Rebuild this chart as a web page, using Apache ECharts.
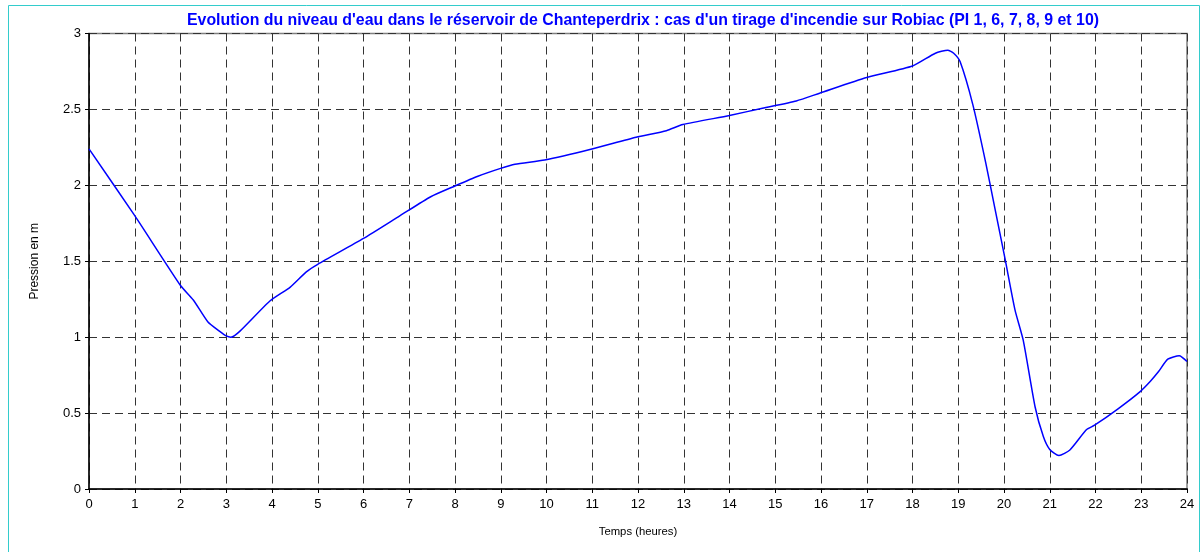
<!DOCTYPE html>
<html>
<head>
<meta charset="utf-8">
<script src="https://cdn.jsdelivr.net/npm/echarts@6/dist/echarts.min.js"></script>
<style>
  html, body { margin: 0; padding: 0; background: #fff; }
  #main { width: 1204px; height: 552px; }
</style>
</head>
<body>
<div id="main"></div>
<script>
// heures
const hours = [0, 1, 2, 2.28, 2.6, 2.85, 3.0, 3.1, 3.3, 3.96, 4.4, 4.75, 5, 6, 6.8, 7.47, 8, 8.5, 8.98, 9.31, 9.96, 10.97, 11.96, 12.62, 12.98, 14, 14.72, 15.46, 15.97, 17, 18, 18.5, 18.77, 18.9, 19.04, 19.32, 19.6, 19.8, 20.02, 20.24, 20.42, 20.68, 20.86, 21.0, 21.2, 21.44, 21.8, 21.98, 22.5, 22.97, 23.2, 23.37, 23.58, 23.83, 24];
// pression en m
const pressure = [2.24, 1.80, 1.34, 1.245, 1.10, 1.04, 1.008, 1.0, 1.04, 1.24, 1.33, 1.43, 1.48, 1.65, 1.80, 1.925, 1.996, 2.06, 2.11, 2.139, 2.167, 2.238, 2.317, 2.36, 2.40, 2.46, 2.508, 2.556, 2.607, 2.71, 2.786, 2.87, 2.89, 2.87, 2.815, 2.53, 2.15, 1.85, 1.52, 1.18, 0.98, 0.54, 0.345, 0.26, 0.22, 0.257, 0.39, 0.42, 0.53, 0.64, 0.71, 0.77, 0.855, 0.878, 0.84];
const xTicks = [0, 24, 1];
const yTicks = [0, 3, 0.5];

const chart = echarts.init(document.getElementById('main'));

const font = 'Liberation Sans, Arial, sans-serif';
const gridLine = { show: true, lineStyle: { color: '#333', type: [8, 5], width: 1 } };

chart.setOption({
  animation: false,
  textStyle: { fontFamily: font },
  title: {
    text: "Evolution du niveau d'eau dans le réservoir de Chanteperdrix : cas d'un tirage d'incendie sur Robiac (PI 1, 6, 7, 8, 9 et 10)",
    left: 638,
    top: 8,
    textAlign: 'center',
    textStyle: { color: '#0000ff', fontSize: 15.9, fontWeight: 'bold', fontFamily: font }
  },
  graphic: [{
    type: 'rect',
    shape: { x: 8.5, y: 5.5, width: 1191, height: 560 },
    style: { fill: 'none', stroke: '#33cccc', lineWidth: 1 },
    z: -1
  }],
  grid: {
    left: 89, right: 17, top: 33.5, bottom: 63,
    show: true, borderColor: '#808080', borderWidth: 1.5, backgroundColor: '#fff'
  },
  xAxis: {
    type: 'value',
    min: xTicks[0], max: xTicks[1], interval: xTicks[2],
    name: 'Temps (heures)',
    nameLocation: 'middle',
    nameGap: 37,
    nameTextStyle: { color: '#000', fontSize: 11.3, fontFamily: font },
    axisLine: { lineStyle: { color: '#000', width: 1.5 } },
    axisTick: { show: true, length: 4, inside: false, lineStyle: { color: '#000' } },
    axisLabel: { color: '#000', fontSize: 13, margin: 9, fontFamily: font },
    splitLine: gridLine
  },
  yAxis: {
    type: 'value',
    min: yTicks[0], max: yTicks[1], interval: yTicks[2],
    name: 'Pression en m',
    nameLocation: 'middle',
    nameGap: 48,
    nameTextStyle: { color: '#000', fontSize: 12, fontFamily: font },
    axisLine: { show: true, lineStyle: { color: '#000', width: 1.5 } },
    axisTick: { show: true, length: 4, lineStyle: { color: '#000' } },
    axisLabel: { color: '#000', fontSize: 13, margin: 8, fontFamily: font },
    splitLine: gridLine
  },
  series: [{
    type: 'line',
    data: hours.map((h, i) => [h, pressure[i]]),
    smooth: 0.2,
    showSymbol: false,
    lineStyle: { color: '#0000ff', width: 1.5 },
    z: 5
  }]
});
</script>
</body>
</html>
